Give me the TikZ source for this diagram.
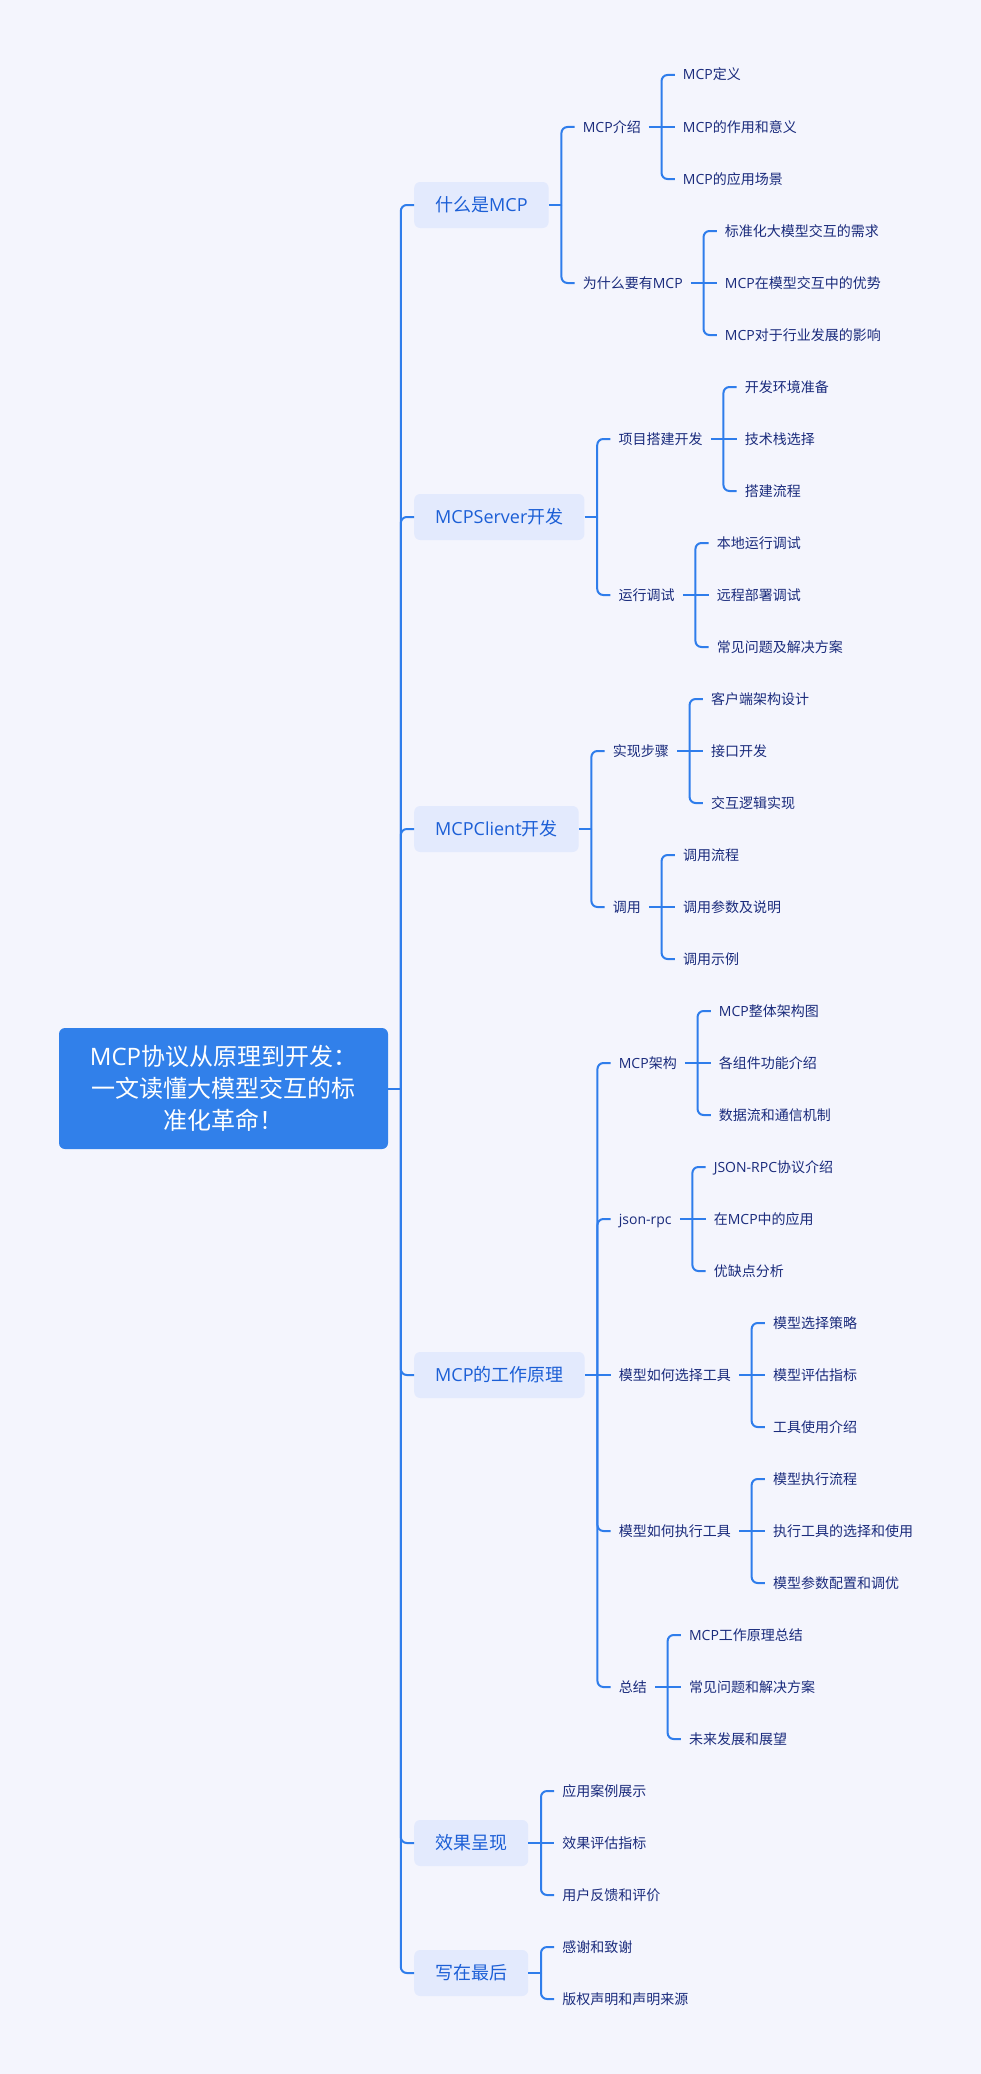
\documentclass[tikz,border=0pt]{standalone}
\usepackage{fontspec}
\setmainfont{Noto Sans CJK SC}
\newfontfamily\latf{Open Sans}
\newcommand{\lt}[1]{{\latf #1}}
\usetikzlibrary{calc}
\definecolor{bgc}{HTML}{F4F5FD}
\definecolor{linec}{HTML}{2F7DEB}
\definecolor{lonefill}{HTML}{E3EAFD}
\definecolor{lonetext}{HTML}{1C5FD6}
\definecolor{leaftext}{HTML}{1A2B7C}
\definecolor{rootfill}{HTML}{3180EA}
\newcommand{\leaffont}{\fontsize{14pt}{17pt}\selectfont}
\newcommand{\lonefont}{\fontsize{18pt}{22pt}\selectfont}
\newcommand{\rootfont}{\fontsize{24pt}{32pt}\selectfont}
\newcommand{\mmnode}[5]{%
  \path ([xshift=25.8pt]#2.east) coordinate (#3-p);
  \node[#1] (#3) at (#3-p |- 0,#4) {#5};}
\newcommand{\mmlink}[2]{\draw[brk] ([xshift=12.6pt]#1.east) |- (#2.west);}
\newcommand{\mmmid}[2]{\draw[mline] (#1.east) -- (#2.west);}
\newcommand{\mmstub}[1]{\draw[mline] (#1.east) -- ++(12.6pt,0);}
\tikzset{
  mline/.style={draw=linec, line width=2pt},
  brk/.style={mline, rounded corners=6pt},
  leaf/.style={font=\leaffont, text=leaftext, inner xsep=8pt, inner ysep=2pt,
    text height=12pt, text depth=2pt, anchor=west},
  lone/.style={font=\lonefont, text=lonetext, fill=lonefill, rounded corners=6pt,
    minimum height=46pt, inner xsep=21pt, text height=15pt, text depth=3pt, anchor=west},
  rootst/.style={font=\rootfont, text=white, fill=rootfill, rounded corners=6pt,
    minimum width=329pt, minimum height=121pt, align=center, inner sep=0pt}
}
\begin{document}
\begin{tikzpicture}[x=1pt,y=-1pt]
\fill[bgc] (0,0) rectangle (981,2074);
\useasboundingbox (0,0) rectangle (981,2074);

\node[rootst] (r) at (223.5,1088.5) {\lt{MCP}协议从原理到开发：\\一文读懂大模型交互的标\\准化革命！};

% level 1
\mmnode{lone}{r}{A}{205}{什么是\lt{MCP}}
\mmnode{lone}{r}{B}{517}{\lt{MCPServer}开发}
\mmnode{lone}{r}{C}{829}{\lt{MCPClient}开发}
\mmnode{lone}{r}{D}{1375}{\lt{MCP}的工作原理}
\mmnode{lone}{r}{E}{1843}{效果呈现}
\mmnode{lone}{r}{F}{1973}{写在最后}
\mmstub{r}
\foreach \k in {A,B,C,D,E,F} {\mmlink{r}{\k}}

% A
\mmnode{leaf}{A}{A1}{127}{\lt{MCP}介绍}
\mmnode{leaf}{A}{A2}{283}{为什么要有\lt{MCP}}
\mmstub{A}
\mmlink{A}{A1}\mmlink{A}{A2}
\mmnode{leaf}{A1}{A11}{75}{\lt{MCP}定义}
\mmnode{leaf}{A1}{A12}{127}{\lt{MCP}的作用和意义}
\mmnode{leaf}{A1}{A13}{179}{\lt{MCP}的应用场景}
\mmlink{A1}{A11}\mmmid{A1}{A12}\mmlink{A1}{A13}
\mmnode{leaf}{A2}{A21}{231}{标准化大模型交互的需求}
\mmnode{leaf}{A2}{A22}{283}{\lt{MCP}在模型交互中的优势}
\mmnode{leaf}{A2}{A23}{335}{\lt{MCP}对于行业发展的影响}
\mmlink{A2}{A21}\mmmid{A2}{A22}\mmlink{A2}{A23}

% B
\mmnode{leaf}{B}{B1}{439}{项目搭建开发}
\mmnode{leaf}{B}{B2}{595}{运行调试}
\mmstub{B}
\mmlink{B}{B1}\mmlink{B}{B2}
\mmnode{leaf}{B1}{B11}{387}{开发环境准备}
\mmnode{leaf}{B1}{B12}{439}{技术栈选择}
\mmnode{leaf}{B1}{B13}{491}{搭建流程}
\mmlink{B1}{B11}\mmmid{B1}{B12}\mmlink{B1}{B13}
\mmnode{leaf}{B2}{B21}{543}{本地运行调试}
\mmnode{leaf}{B2}{B22}{595}{远程部署调试}
\mmnode{leaf}{B2}{B23}{647}{常见问题及解决方案}
\mmlink{B2}{B21}\mmmid{B2}{B22}\mmlink{B2}{B23}

% C
\mmnode{leaf}{C}{C1}{751}{实现步骤}
\mmnode{leaf}{C}{C2}{907}{调用}
\mmstub{C}
\mmlink{C}{C1}\mmlink{C}{C2}
\mmnode{leaf}{C1}{C11}{699}{客户端架构设计}
\mmnode{leaf}{C1}{C12}{751}{接口开发}
\mmnode{leaf}{C1}{C13}{803}{交互逻辑实现}
\mmlink{C1}{C11}\mmmid{C1}{C12}\mmlink{C1}{C13}
\mmnode{leaf}{C2}{C21}{855}{调用流程}
\mmnode{leaf}{C2}{C22}{907}{调用参数及说明}
\mmnode{leaf}{C2}{C23}{959}{调用示例}
\mmlink{C2}{C21}\mmmid{C2}{C22}\mmlink{C2}{C23}

% D
\mmnode{leaf}{D}{D1}{1063}{\lt{MCP}架构}
\mmnode{leaf}{D}{D2}{1219}{\lt{json-rpc}}
\mmnode{leaf}{D}{D3}{1375}{模型如何选择工具}
\mmnode{leaf}{D}{D4}{1531}{模型如何执行工具}
\mmnode{leaf}{D}{D5}{1687}{总结}
\mmlink{D}{D1}\mmlink{D}{D2}\mmmid{D}{D3}\mmlink{D}{D4}\mmlink{D}{D5}
\mmnode{leaf}{D1}{D11}{1011}{\lt{MCP}整体架构图}
\mmnode{leaf}{D1}{D12}{1063}{各组件功能介绍}
\mmnode{leaf}{D1}{D13}{1115}{数据流和通信机制}
\mmlink{D1}{D11}\mmmid{D1}{D12}\mmlink{D1}{D13}
\mmnode{leaf}{D2}{D21}{1167}{\lt{JSON-RPC}协议介绍}
\mmnode{leaf}{D2}{D22}{1219}{在\lt{MCP}中的应用}
\mmnode{leaf}{D2}{D23}{1271}{优缺点分析}
\mmlink{D2}{D21}\mmmid{D2}{D22}\mmlink{D2}{D23}
\mmnode{leaf}{D3}{D31}{1323}{模型选择策略}
\mmnode{leaf}{D3}{D32}{1375}{模型评估指标}
\mmnode{leaf}{D3}{D33}{1427}{工具使用介绍}
\mmlink{D3}{D31}\mmmid{D3}{D32}\mmlink{D3}{D33}
\mmnode{leaf}{D4}{D41}{1479}{模型执行流程}
\mmnode{leaf}{D4}{D42}{1531}{执行工具的选择和使用}
\mmnode{leaf}{D4}{D43}{1583}{模型参数配置和调优}
\mmlink{D4}{D41}\mmmid{D4}{D42}\mmlink{D4}{D43}
\mmnode{leaf}{D5}{D51}{1635}{\lt{MCP}工作原理总结}
\mmnode{leaf}{D5}{D52}{1687}{常见问题和解决方案}
\mmnode{leaf}{D5}{D53}{1739}{未来发展和展望}
\mmlink{D5}{D51}\mmmid{D5}{D52}\mmlink{D5}{D53}

% E
\mmnode{leaf}{E}{E1}{1791}{应用案例展示}
\mmnode{leaf}{E}{E2}{1843}{效果评估指标}
\mmnode{leaf}{E}{E3}{1895}{用户反馈和评价}
\mmlink{E}{E1}\mmmid{E}{E2}\mmlink{E}{E3}

% F
\mmnode{leaf}{F}{F1}{1947}{感谢和致谢}
\mmnode{leaf}{F}{F2}{1999}{版权声明和声明来源}
\mmstub{F}
\mmlink{F}{F1}\mmlink{F}{F2}
\end{tikzpicture}
\end{document}
